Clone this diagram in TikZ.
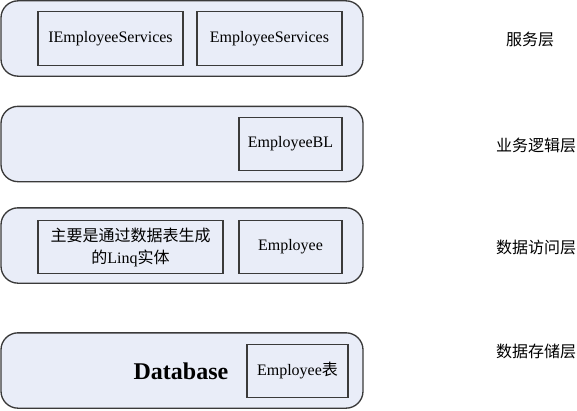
\documentclass[tikz,border=0pt]{standalone}
\usepackage{fontspec}
\setmainfont{Liberation Serif}
\newfontfamily\cjk{Noto Sans CJK SC}
\usepackage{xcolor}
\definecolor{layerfill}{RGB}{233,237,248}
\definecolor{edgegray}{RGB}{58,58,58}

\begin{document}
\begin{tikzpicture}[
  x=0.75pt, y=-0.75pt,
  layer/.style={rectangle, draw=edgegray, fill=layerfill, line width=1pt, rounded corners=12.75pt, minimum width=271.5pt, minimum height=56.5pt},
  item/.style={rectangle, draw=edgegray, fill=layerfill, line width=0.9pt, inner sep=0pt, align=center, minimum height=40pt, font=\fontsize{12}{16.5}\selectfont},
  tier/.style={font=\fontsize{12}{14}\selectfont\cjk}
]
\useasboundingbox (0,0) rectangle (577,410);

\node[layer] (service) at (182,38.5) {};
\node[layer] (business) at (182,144) {};
\node[layer] (access) at (182,245.5) {};
\node[layer] (storage) at (182,370.5) {};

\node[item, minimum width=108.75pt] (iservices) at (110.5,38.5) {IEmployeeServices};
\node[item, minimum width=108.75pt] (services) at (269.5,38.5) {EmployeeServices};
\node[item, minimum width=77.25pt] (bl) at (290.5,144) {EmployeeBL};
\node[item, minimum width=138.75pt] (linq) at (130.5,247) {{\cjk 主要是通过数据表生成}\\{\cjk 的}Linq{\cjk 实体}};
\node[item, minimum width=77.25pt] (entity) at (290.5,247) {Employee};
\node[item, minimum width=75.75pt] (table) at (297.5,371) {Employee{\cjk 表}};
\node[font=\fontsize{18}{20}\selectfont\bfseries] (db) at (181,371) {Database};

\node[tier] (servicetag) at (530,39) {服务层};
\node[tier] (businesstag) at (536,145) {业务逻辑层};
\node[tier] (accesstag) at (536,247) {数据访问层};
\node[tier] (storagetag) at (536,351) {数据存储层};

\end{tikzpicture}
\end{document}
